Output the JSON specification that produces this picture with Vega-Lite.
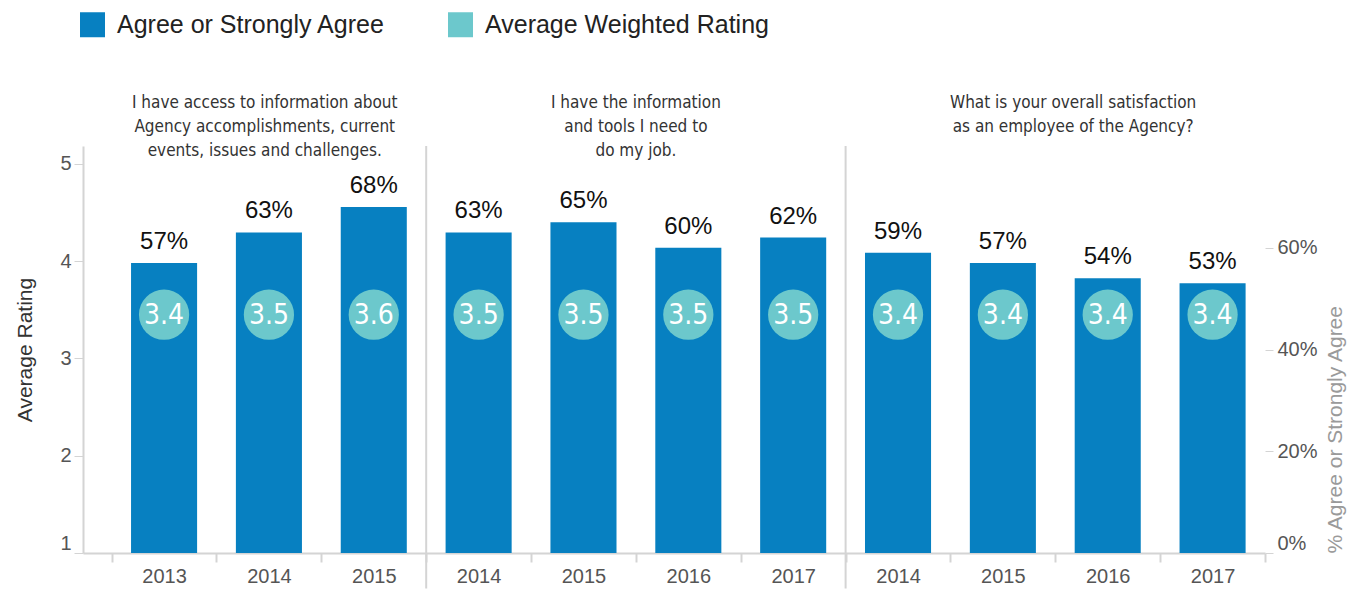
{
  "$schema": "https://vega.github.io/schema/vega-lite/v6.json",
  "width": 1182,
  "height": 407,
  "autosize": {"type": "none"},
  "padding": {"left": 83, "top": 146, "right": 84, "bottom": 36},
  "config": {"view": {"stroke": null}, "font": "Liberation Sans", "axis": {"grid": false}},
  "data": {"values": [
    {"key": "Q1 2013", "pct": 0.57, "rating": 3.4},
    {"key": "Q1 2014", "pct": 0.63, "rating": 3.5},
    {"key": "Q1 2015", "pct": 0.68, "rating": 3.6},
    {"key": "Q2 2014", "pct": 0.63, "rating": 3.5},
    {"key": "Q2 2015", "pct": 0.65, "rating": 3.5},
    {"key": "Q2 2016", "pct": 0.60, "rating": 3.5},
    {"key": "Q2 2017", "pct": 0.62, "rating": 3.5},
    {"key": "Q3 2014", "pct": 0.59, "rating": 3.4},
    {"key": "Q3 2015", "pct": 0.57, "rating": 3.4},
    {"key": "Q3 2016", "pct": 0.54, "rating": 3.4},
    {"key": "Q3 2017", "pct": 0.53, "rating": 3.4}
  ]},
  "encoding": {
    "x": {
      "field": "key", "type": "nominal",
      "scale": {
        "domain": ["Q1 2013", "Q1 2014", "Q1 2015", "Q2 2014", "Q2 2015", "Q2 2016", "Q2 2017", "Q3 2014", "Q3 2015", "Q3 2016", "Q3 2017"],
        "paddingInner": 0, "paddingOuter": 0.1366, "align": 1
      },
      "axis": {
        "title": null, "labelAngle": 0, "labelExpr": "split(datum.label, ' ')[1]",
        "labelFontSize": 20, "labelColor": "#555555", "labelPadding": 4,
        "domainColor": "#d4d4d4", "domainWidth": 2, "tickColor": "#d4d4d4", "tickWidth": 2, "tickSize": 9, "tickBand": "extent"
      }
    }
  },
  "layer": [
    {
      "layer": [
        {
          "mark": {"type": "bar", "width": {"band": 0.63}},
          "encoding": {
            "y": {
              "field": "pct", "type": "quantitative",
              "scale": {"domain": [0, 0.8], "nice": false, "zero": true},
              "axis": {
                "orient": "right", "title": "% Agree or Strongly Agree", "values": [0, 0.2, 0.4, 0.6], "format": ".0%",
                "labelFontSize": 20, "labelColor": "#555555", "labelPadding": 4, "labelFlush": true,
                "domain": false, "tickColor": "#d4d4d4", "tickSize": 8,
                "titleFontSize": 21, "titleFontWeight": "normal", "titleColor": "#9a9a9a", "titleAngle": 270, "titleAnchor": "start", "titlePadding": 28
              }
            },
            "color": {
              "datum": "Agree or Strongly Agree", "type": "nominal",
              "scale": {"domain": ["Agree or Strongly Agree", "Average Weighted Rating"], "range": ["#0780C1", "#6CC8CC"]},
              "legend": {
                "orient": "none", "legendX": -3, "legendY": -134, "direction": "horizontal", "title": null,
                "symbolType": "square", "symbolSize": 625, "symbolStrokeWidth": 0, "symbolOpacity": 1,
                "labelFontSize": 25, "labelColor": "#222222", "labelOffset": 12, "labelLimit": 0, "columnPadding": 62
              }
            }
          }
        },
        {
          "mark": {"type": "text", "baseline": "bottom", "dy": -9, "fontSize": 24, "color": "#111111"},
          "encoding": {
            "y": {"field": "pct", "type": "quantitative"},
            "text": {"field": "pct", "type": "quantitative", "format": ".0%"}
          }
        },
        {
          "data": {"values": [{"key": "Q2 2014"}, {"key": "Q3 2014"}]},
          "mark": {"type": "rule", "color": "#d4d4d4", "strokeWidth": 2},
          "encoding": {
            "x": {"field": "key", "type": "nominal", "bandPosition": 0},
            "y": {"datum": 0.8},
            "y2": {"datum": -0.07}
          }
        },
        {
          "data": {"values": [{"key": "Q1 2014", "lines": ["I have access to information about", "Agency accomplishments, current", "events, issues and challenges."]}]},
          "mark": {"type": "text", "font": "DejaVu Sans Condensed, Roboto", "fontSize": 17, "lineHeight": 24, "baseline": "top", "align": "center", "color": "#333333"},
          "encoding": {
            "x": {"field": "key", "type": "nominal", "bandPosition": 0.46},
            "y": {"datum": 0.9},
            "text": {"field": "lines"}
          }
        },
        {
          "data": {"values": [{"key": "Q2 2015", "lines": ["I have the information", "and tools I need to", "do my job."]}]},
          "mark": {"type": "text", "font": "DejaVu Sans Condensed, Roboto", "fontSize": 17, "lineHeight": 24, "baseline": "top", "align": "center", "color": "#333333"},
          "encoding": {
            "x": {"field": "key", "type": "nominal", "bandPosition": 1},
            "y": {"datum": 0.9},
            "text": {"field": "lines"}
          }
        },
        {
          "data": {"values": [{"key": "Q3 2016", "lines": ["What is your overall satisfaction", "as an employee of the Agency?"]}]},
          "mark": {"type": "text", "font": "DejaVu Sans Condensed, Roboto", "fontSize": 17, "lineHeight": 24, "baseline": "top", "align": "center", "color": "#333333"},
          "encoding": {
            "x": {"field": "key", "type": "nominal", "bandPosition": 0.17},
            "y": {"datum": 0.9},
            "text": {"field": "lines"}
          }
        }
      ]
    },
    {
      "layer": [
        {
          "mark": {"type": "point", "filled": true, "shape": "circle", "size": 2525, "opacity": 1},
          "encoding": {
            "y": {
              "datum": 3.45, "type": "quantitative",
              "scale": {"domain": [1, 5.185], "nice": false, "zero": false},
              "axis": {
                "orient": "left", "title": "Average Rating", "values": [1, 2, 3, 4, 5], "format": "d",
                "labelFontSize": 20, "labelColor": "#555555", "labelPadding": 3, "labelFlush": true,
                "domainColor": "#d4d4d4", "domainWidth": 2, "tickColor": "#d4d4d4", "tickSize": 9,
                "titleFontSize": 21, "titleFontWeight": "normal", "titleColor": "#333333", "titlePadding": 24
              }
            },
            "color": {"datum": "Average Weighted Rating", "type": "nominal"}
          }
        },
        {
          "mark": {"type": "text", "font": "DejaVu Sans Condensed, Roboto", "fontSize": 28, "color": "white", "baseline": "middle", "dy": 1},
          "encoding": {
            "y": {"datum": 3.45, "type": "quantitative"},
            "text": {"field": "rating", "type": "quantitative", "format": ".1f"}
          }
        }
      ]
    }
  ],
  "resolve": {"scale": {"y": "independent"}}
}
